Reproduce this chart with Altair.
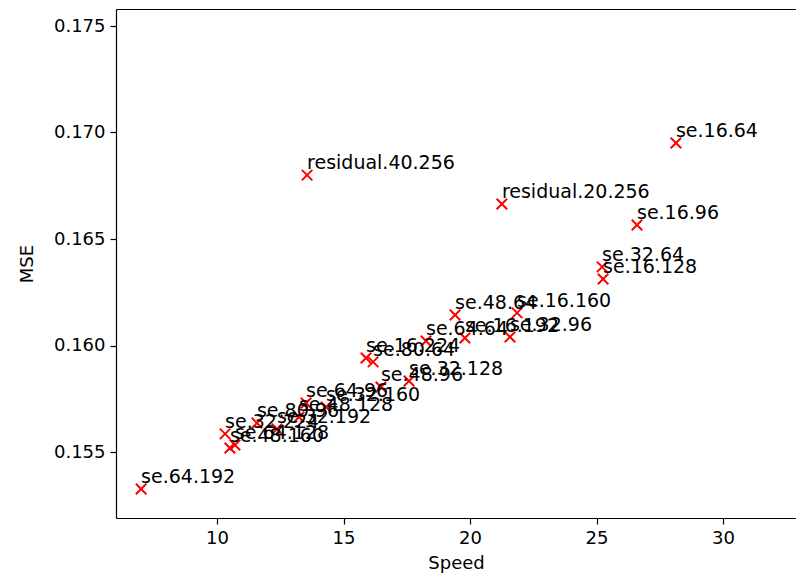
import altair as alt
import pandas as pd

names = [
    "se.16.64", "residual.40.256", "residual.20.256", "se.16.96", "se.32.64",
    "se.16.128", "se.48.64", "se.16.160", "se.64.64", "se.16.192", "se.32.96",
    "se.16.224", "se.80.64", "se.32.128", "se.48.96", "se.64.96", "se.32.160",
    "se.48.128", "se.80.96", "se.32.192", "se.32.224", "se.64.128", "se.48.160",
    "se.64.192",
]
speed = [
    28.14, 13.56, 21.26, 26.60, 25.22,
    25.26, 19.41, 21.86, 18.26, 19.80, 21.58,
    15.89, 16.17, 17.59, 16.48, 13.52, 14.31,
    13.24, 11.58, 12.37, 10.32, 10.71, 10.51,
    7.00,
]
mse = [
    0.16951, 0.16800, 0.16664, 0.16566, 0.16369,
    0.16312, 0.16143, 0.16153, 0.16021, 0.16035, 0.16040,
    0.15941, 0.15923, 0.15833, 0.15805, 0.15730, 0.15711,
    0.15664, 0.15636, 0.15608, 0.15585, 0.15533, 0.15519,
    0.15326,
]
x_ticks = [10, 15, 20, 25, 30]
y_ticks = [0.155, 0.160, 0.165, 0.170, 0.175]

df = pd.DataFrame({"name": names, "speed": speed, "mse": mse})

PX_X = 25.3
PX_Y = 21300.0
LEFT = 116
TOP = 9
W = 680
H = 509
xmin = 10 - (217 - LEFT) / PX_X
xmax = xmin + W / PX_X
ymax = 0.175 + (26 - TOP) / PX_Y
ymin = ymax - H / PX_Y

FONT = "DejaVu Sans"
FS = 18

x_scale = alt.Scale(domain=[xmin, xmax], nice=False, zero=False)
y_scale = alt.Scale(domain=[ymin, ymax], nice=False, zero=False)

base = alt.Chart(df)

pts = base.mark_point(
    shape="M-1,-1L1,1M1,-1L-1,1", filled=False, color="#ff0000",
    strokeWidth=2, size=110, opacity=1
).encode(
    x=alt.X("speed:Q", scale=x_scale, axis=alt.Axis(
        values=x_ticks, title="Speed", grid=False, tickSize=6, labelPadding=5,
        titleY=36, titleBaseline="top", domainColor="black")),
    y=alt.Y("mse:Q", scale=y_scale, axis=alt.Axis(
        values=y_ticks, format=".3f", title="MSE", grid=False, tickSize=6,
        labelPadding=5, titleX=-80, titleY=H / 2, domainColor="black")),
)

txt = base.mark_text(
    align="left", baseline="alphabetic", dy=-6, font=FONT, fontSize=19,
    color="black"
).encode(
    x=alt.X("speed:Q", scale=x_scale, axis=alt.Axis(
        orient="top", labels=False, ticks=False, title=None, grid=False,
        domainColor="black")),
    y=alt.Y("mse:Q", scale=y_scale),
    text="name:N",
)

chart = alt.layer(pts, txt).resolve_axis(x="independent").properties(
    width=W, height=H,
    autosize=alt.AutoSizeParams(type="none"),
    padding={"left": LEFT, "top": TOP, "right": 0, "bottom": 576 - TOP - H - 1},
).configure_view(stroke=None).configure_axis(
    labelFont=FONT, titleFont=FONT, labelFontSize=FS, titleFontSize=FS,
    labelColor="black", titleColor="black", tickColor="black",
    titleFontWeight="normal", domainWidth=1.2, tickWidth=1.2,
)

chart.save("out.html", embed_options={"renderer": "svg", "actions": False})
